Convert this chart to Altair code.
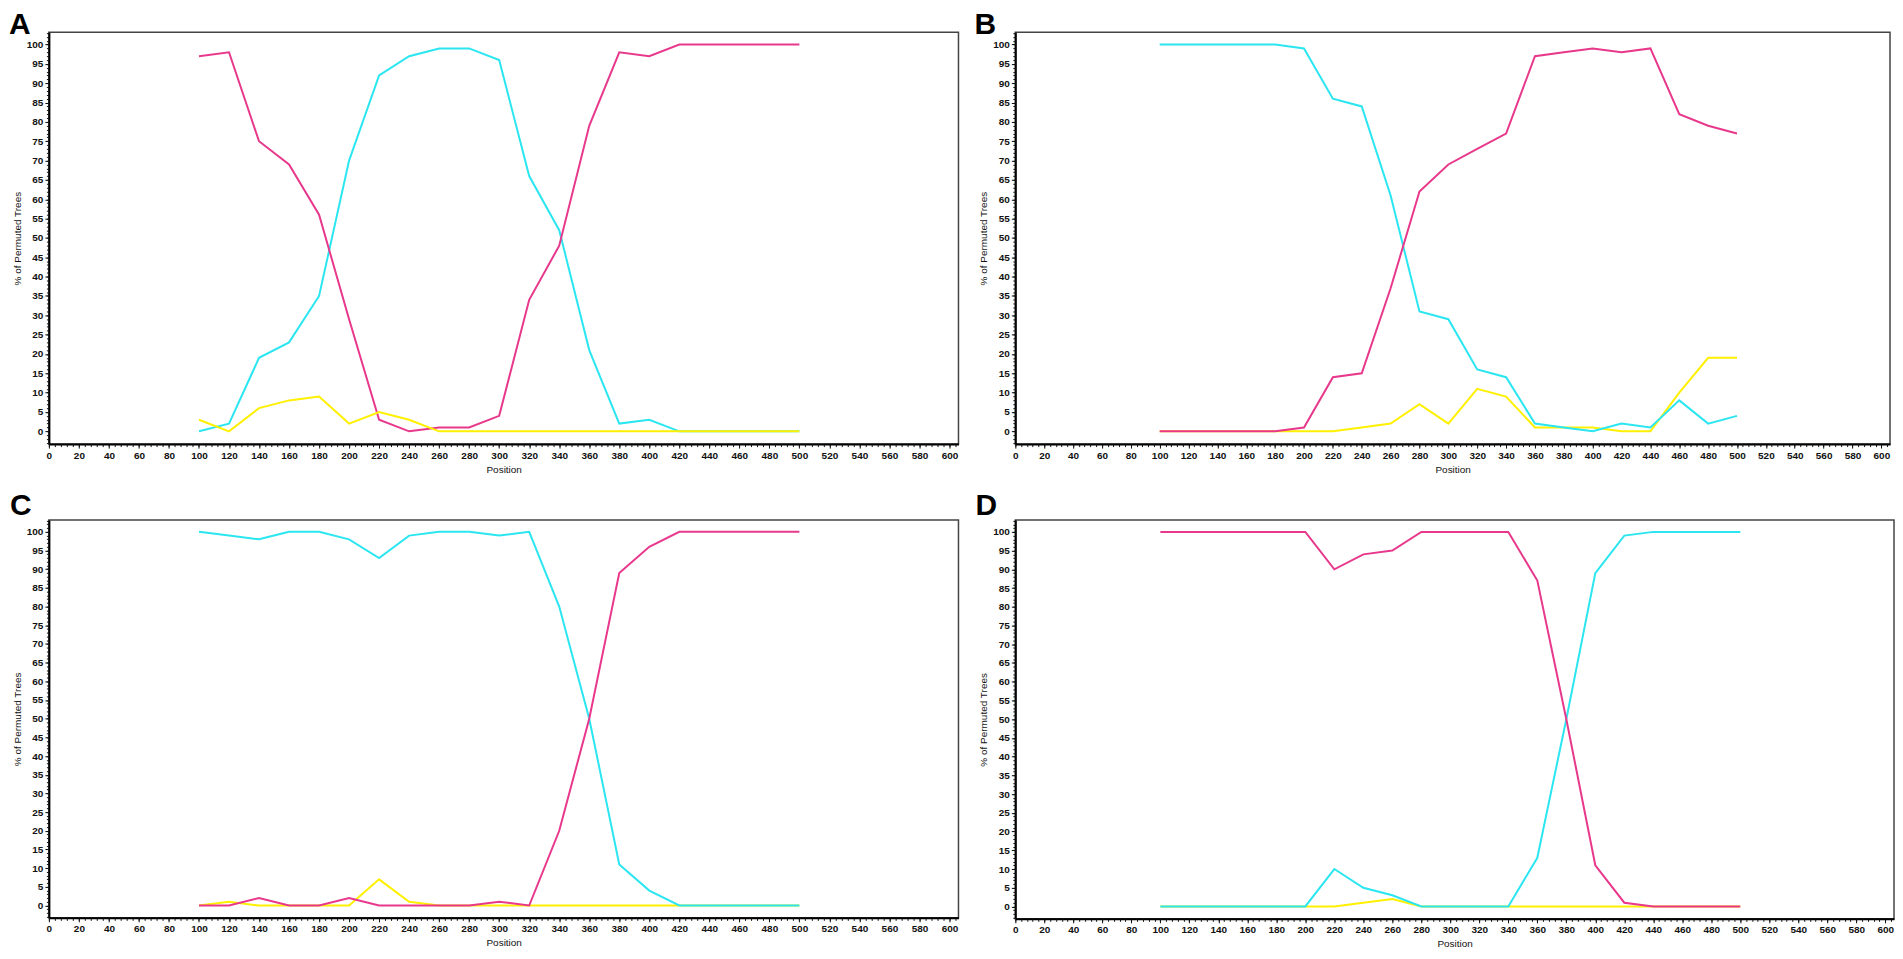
import altair as alt
import pandas as pd

positions = list(range(100, 501, 20))

a_cyan = [0, 2, 19, 23, 35, 70, 92, 97, 99, 99, 96, 66, 52, 21, 2, 3, 0, 0, 0, 0, 0]
a_magenta = [97, 98, 75, 69, 56, 29, 3, 0, 1, 1, 4, 34, 48, 79, 98, 97, 100, 100, 100, 100, 100]
a_yellow = [3, 0, 6, 8, 9, 2, 5, 3, 0, 0, 0, 0, 0, 0, 0, 0, 0, 0, 0, 0, 0]

b_cyan = [100, 100, 100, 100, 100, 99, 86, 84, 61, 31, 29, 16, 14, 2, 1, 0, 2, 1, 8, 2, 4]
b_magenta = [0, 0, 0, 0, 0, 1, 14, 15, 37, 62, 69, 73, 77, 97, 98, 99, 98, 99, 82, 79, 77]
b_yellow = [0, 0, 0, 0, 0, 0, 0, 1, 2, 7, 2, 11, 9, 1, 1, 1, 0, 0, 10, 19, 19]

c_cyan = [100, 99, 98, 100, 100, 98, 93, 99, 100, 100, 99, 100, 80, 50, 11, 4, 0, 0, 0, 0, 0]
c_magenta = [0, 0, 2, 0, 0, 2, 0, 0, 0, 0, 1, 0, 20, 50, 89, 96, 100, 100, 100, 100, 100]
c_yellow = [0, 1, 0, 0, 0, 0, 7, 1, 0, 0, 0, 0, 0, 0, 0, 0, 0, 0, 0, 0, 0]

d_cyan = [0, 0, 0, 0, 0, 0, 10, 5, 3, 0, 0, 0, 0, 13, 50, 89, 99, 100, 100, 100, 100]
d_magenta = [100, 100, 100, 100, 100, 100, 90, 94, 95, 100, 100, 100, 100, 87, 50, 11, 1, 0, 0, 0, 0]
d_yellow = [0, 0, 0, 0, 0, 0, 0, 1, 2, 0, 0, 0, 0, 0, 0, 0, 0, 0, 0, 0, 0]

x_major = list(range(0, 601, 20))
x_minor = list(range(0, 605, 4))
y_major = list(range(0, 101, 5))
y_minor = list(range(-3, 104, 1))

COLORS = {"cyan": "#2BE6F0", "magenta": "#E8388C", "yellow": "#FFF000"}

data = {
    "A": {"cyan": a_cyan, "magenta": a_magenta, "yellow": a_yellow},
    "B": {"cyan": b_cyan, "magenta": b_magenta, "yellow": b_yellow},
    "C": {"cyan": c_cyan, "magenta": c_magenta, "yellow": c_yellow},
    "D": {"cyan": d_cyan, "magenta": d_magenta, "yellow": d_yellow},
}

rows = []
for p, ser in data.items():
    for s, vals in ser.items():
        for x, v in zip(positions, vals):
            rows.append({"panel": p, "series": s, "position": x, "value": v})
df = pd.DataFrame(rows)

FONT = "Liberation Sans"
xscale = alt.Scale(domain=[0, 606], nice=False, zero=False)
yscale = alt.Scale(domain=[-3.3, 103.2], nice=False, zero=False)

major_x = alt.Axis(values=x_major, orient="bottom", title="Position", grid=False,
                   tickSize=4, labelPadding=2, titlePadding=4, labelFlush=False,
                   labelOverlap=False)
minor_x = alt.Axis(values=x_minor, orient="bottom", title=None, labels=False,
                   domain=False, grid=False, tickSize=2.5)
major_y = alt.Axis(values=y_major, orient="left", title="% of Permuted Trees",
                   grid=False, tickSize=4, labelPadding=2, titlePadding=4,
                   labelFlush=False, labelOverlap=False)
minor_y = alt.Axis(values=y_minor, orient="left", title=None, labels=False,
                   domain=False, grid=False, tickSize=2.5)


def panel(key, w, h, order, dx, offset):
    layers = []
    for i, s in enumerate(order):
        if i == 0:
            ax, ay = major_x, major_y
        elif i == 1:
            ax, ay = minor_x, minor_y
        else:
            ax, ay = None, None
        layer = (
            alt.Chart(df)
            .transform_filter((alt.datum.panel == key) & (alt.datum.series == s))
            .mark_line(color=COLORS[s], strokeWidth=2)
            .encode(
                x=alt.X("position:Q", scale=xscale, axis=ax),
                y=alt.Y("value:Q", scale=yscale, axis=ay),
            )
        )
        layers.append(layer)
    return (
        alt.layer(*layers)
        .resolve_axis(x="independent", y="independent")
        .properties(
            width=w,
            height=h,
            title=alt.TitleParams(
                text=key, anchor="start", frame="group", fontSize=30,
                fontWeight="bold", font=FONT, color="black", dx=dx,
                offset=offset, baseline="alphabetic",
            ),
        )
    )


pA = panel("A", 912, 413, ["cyan", "magenta", "yellow"], -40, -32)
pB = panel("B", 877, 413, ["yellow", "cyan", "magenta"], -41, -32)
pC = panel("C", 912, 399, ["yellow", "cyan", "magenta"], -39, -25)
pD = panel("D", 881, 400, ["yellow", "cyan", "magenta"], -40, -25)

chart = (
    alt.concat(pA, pB, pC, pD, columns=2, bounds="flush", align="each",
               spacing={"row": 76, "column": 57})
    .properties(padding=0, background="white")
    .configure_view(stroke="#444444", strokeWidth=1.5)
    .configure_axis(
        labelFont=FONT, labelFontSize=10, labelFontWeight="bold", labelColor="#111111",
        titleFont=FONT, titleFontSize=10, titleFontWeight="normal", titleColor="#111111",
        tickColor="#111111", domainColor="#000000", domainWidth=2,
    )
)

chart.save("out.html", embed_options={"renderer": "svg", "actions": False})
